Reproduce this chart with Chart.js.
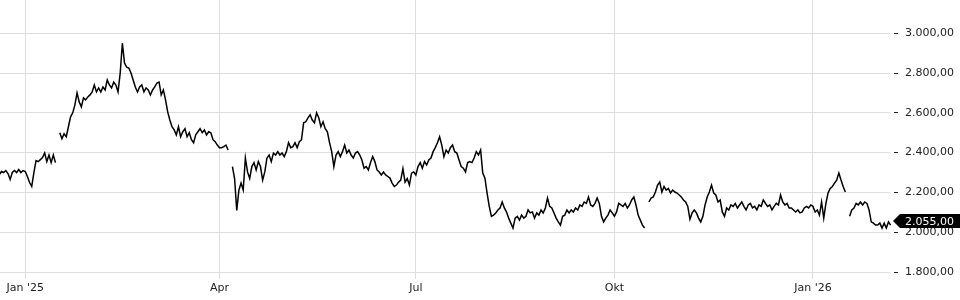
<!DOCTYPE html>
<html><head><meta charset="utf-8">
<script src="https://cdn.jsdelivr.net/npm/chart.js@4.4.1/dist/chart.umd.min.js"></script>
<style>html,body{margin:0;padding:0;background:#fff;}#wrap{width:960px;height:300px;}</style>
</head><body><div id="wrap"><canvas id="c" width="960" height="300"></canvas></div>
<script>
// day offset relative to 1 Jan 2025 of the first value (20 Dec 2024)
const firstDay = -12;
const values = [
  2290, 2305, 2300, 2310, 2295, 2265, 2300, 2310, 2300, 2315, 2300, 2310, 2305,
  2280, 2250, 2230, 2300, 2360, 2355, 2365, 2375, 2398, 2355, 2388, 2350, 2388, 2350,
  null,
  2500, 2470, 2495, 2480,
  2530, 2580, 2600, 2640, 2700, 2655, 2630, 2675, 2665, 2680,
  2690, 2705, 2740, 2705, 2725, 2705, 2730, 2715, 2765, 2740,
  2725, 2755, 2740, 2705, 2800, 2950, 2850, 2830, 2825, 2800,
  2765, 2730, 2705, 2730, 2740, 2705, 2725, 2715, 2690, 2715,
  2730, 2750, 2755, 2690, 2715, 2665, 2605, 2564, 2530, 2514,
  2489, 2530, 2480, 2505, 2520, 2480, 2500, 2465, 2450, 2489,
  2505, 2520, 2500, 2514, 2489, 2505, 2500, 2465, 2455, 2438,
  2425, 2425, 2430, 2438, 2413, null, 2330, 2270, 2110, 2212,
  2247, 2212, 2373, 2303, 2270, 2330, 2350, 2313, 2355, 2330,
  2262, 2303, 2373, 2388, 2355, 2398, 2388, 2405, 2388, 2398,
  2380, 2405, 2450, 2425, 2430, 2450, 2425, 2455, 2465, 2550,
  2555, 2575, 2590, 2564, 2550, 2600, 2575, 2530, 2555, 2520,
  2505, 2450, 2405, 2330, 2388, 2405, 2380, 2405, 2438, 2398,
  2413, 2388, 2373, 2398, 2405, 2388, 2363, 2322, 2330, 2313,
  2350, 2380, 2355, 2313, 2303, 2288, 2303, 2288, 2280, 2272,
  2247, 2230, 2237, 2252, 2262, 2320, 2252, 2270, 2237, 2297,
  2303, 2288, 2330, 2350, 2322, 2355, 2338, 2363, 2373, 2405,
  2425, 2450, 2480, 2438, 2380, 2413, 2398, 2425, 2438, 2405,
  2398, 2363, 2330, 2322, 2303, 2350, 2355, 2350, 2373, 2405,
  2388, 2413, 2297, 2272, 2197, 2130, 2080, 2086, 2097, 2112,
  2122, 2152, 2122, 2102, 2071, 2046, 2021, 2071, 2080, 2061,
  2086, 2071, 2080, 2112, 2097, 2102, 2071, 2097, 2086, 2112,
  2097, 2122, 2172, 2130, 2122, 2097, 2071, 2052, 2036, 2080,
  2086, 2112, 2097, 2112, 2102, 2122, 2112, 2137, 2130, 2152,
  2145, 2177, 2137, 2130, 2145, 2172, 2145, 2080, 2052, 2071,
  2086, 2112, 2097, 2080, 2102, 2145, 2137, 2130, 2145, 2122,
  2137, 2162, 2177, 2137, 2086, 2061, 2036, 2021, null, 2152,
  2172, 2177, 2202, 2237, 2252, 2202, 2230, 2212, 2220, 2197,
  2212, 2202, 2197, 2187, 2177, 2162, 2152, 2130, 2065, 2097,
  2112, 2097, 2071, 2052, 2080, 2137, 2177, 2202, 2237, 2197,
  2187, 2152, 2162, 2102, 2080, 2122, 2112, 2137, 2130, 2145,
  2122, 2137, 2152, 2130, 2112, 2137, 2145, 2122, 2130, 2112,
  2137, 2130, 2162, 2145, 2130, 2137, 2112, 2130, 2145, 2137,
  2187, 2152, 2137, 2145, 2122, 2122, 2112, 2102, 2112, 2097,
  2102, 2122, 2130, 2122, 2137, 2130, 2102, 2112, 2086, 2152,
  2071, 2145, 2197, 2220, 2230, 2247, 2262, 2297, 2262, 2230,
  2202, null, 2080, 2112, 2122, 2145, 2137, 2152, 2137, 2152,
  2145, 2112, 2052, 2046, 2036, 2036, 2046, 2021, 2046, 2021,
  2052, 2036, 2055
];
const xTickDays = [0, 90, 181, 273, 365];
const xTickLabels = ["Jan '25", "Apr", "Jul", "Okt", "Jan '26"];
const yTickValues = [1800, 2000, 2200, 2400, 2600, 2800, 3000];
const lastValue = values[values.length - 1];

function fmt(v) {
  const p = Number(v).toFixed(2).split('.');
  return p[0].replace(/\B(?=(\d{3})+(?!\d))/g, '.') + ',' + p[1];
}

const FONT = '"DejaVu Sans", sans-serif';

const lastPricePlugin = {
  id: 'lastPrice',
  afterDraw(chart) {
    const ys = chart.scales.y;
    const y = Math.round(ys.getPixelForValue(lastValue));
    const ctx = chart.ctx;
    const x0 = ys.left + 3;
    const h = 7;
    ctx.save();
    ctx.fillStyle = '#000';
    ctx.beginPath();
    ctx.moveTo(x0, y);
    ctx.lineTo(x0 + 7, y - h);
    ctx.lineTo(chart.width, y - h);
    ctx.lineTo(chart.width, y + h);
    ctx.lineTo(x0 + 7, y + h);
    ctx.closePath();
    ctx.fill();
    ctx.fillStyle = '#fff';
    ctx.font = '11px ' + FONT;
    ctx.textBaseline = 'middle';
    ctx.textAlign = 'left';
    ctx.fillText(fmt(lastValue), ys.left + 15, y + 1);
    ctx.restore();
  }
};

new Chart(document.getElementById('c'), {
  type: 'line',
  data: {
    datasets: [{
      data: values.map((v, i) => ({ x: firstDay + i, y: v })),
      borderColor: '#000',
      borderWidth: 1.5,
      pointRadius: 0,
      tension: 0,
      spanGaps: false,
      clip: false
    }]
  },
  options: {
    responsive: false,
    animation: false,
    devicePixelRatio: 1,
    layout: { padding: 0 },
    plugins: { legend: { display: false }, tooltip: { enabled: false } },
    scales: {
      x: {
        type: 'linear',
        min: -11.7,
        max: 400.7,
        border: { display: false },
        grid: { color: '#dedede', lineWidth: 1, drawTicks: false },
        ticks: {
          padding: 3,
          color: '#222',
          font: { family: FONT, size: 11 },
          maxRotation: 0,
          autoSkip: false,
          callback: (v) => { const i = xTickDays.indexOf(v); return i >= 0 ? xTickLabels[i] : ''; }
        },
        afterBuildTicks: (s) => { s.ticks = xTickDays.map(v => ({ value: v })); },
        afterFit: (s) => { s.height = 21; s.paddingLeft = 0; s.paddingRight = 0; }
      },
      y: {
        position: 'right',
        min: 1765,
        max: 3167,
        border: { display: false },
        grid: { color: '#dedede', lineWidth: 1, tickColor: '#222', tickLength: 8, tickBorderDash: [0, 4, 4, 20] },
        ticks: {
          padding: 7,
          color: '#222',
          font: { family: FONT, size: 11 },
          callback: (v) => fmt(v)
        },
        afterBuildTicks: (s) => { s.ticks = yTickValues.map(v => ({ value: v })); },
        afterFit: (s) => { s.width = 70; s.paddingTop = 0; s.paddingBottom = 0; }
      }
    }
  },
  plugins: [lastPricePlugin]
});
</script>
</body></html>
